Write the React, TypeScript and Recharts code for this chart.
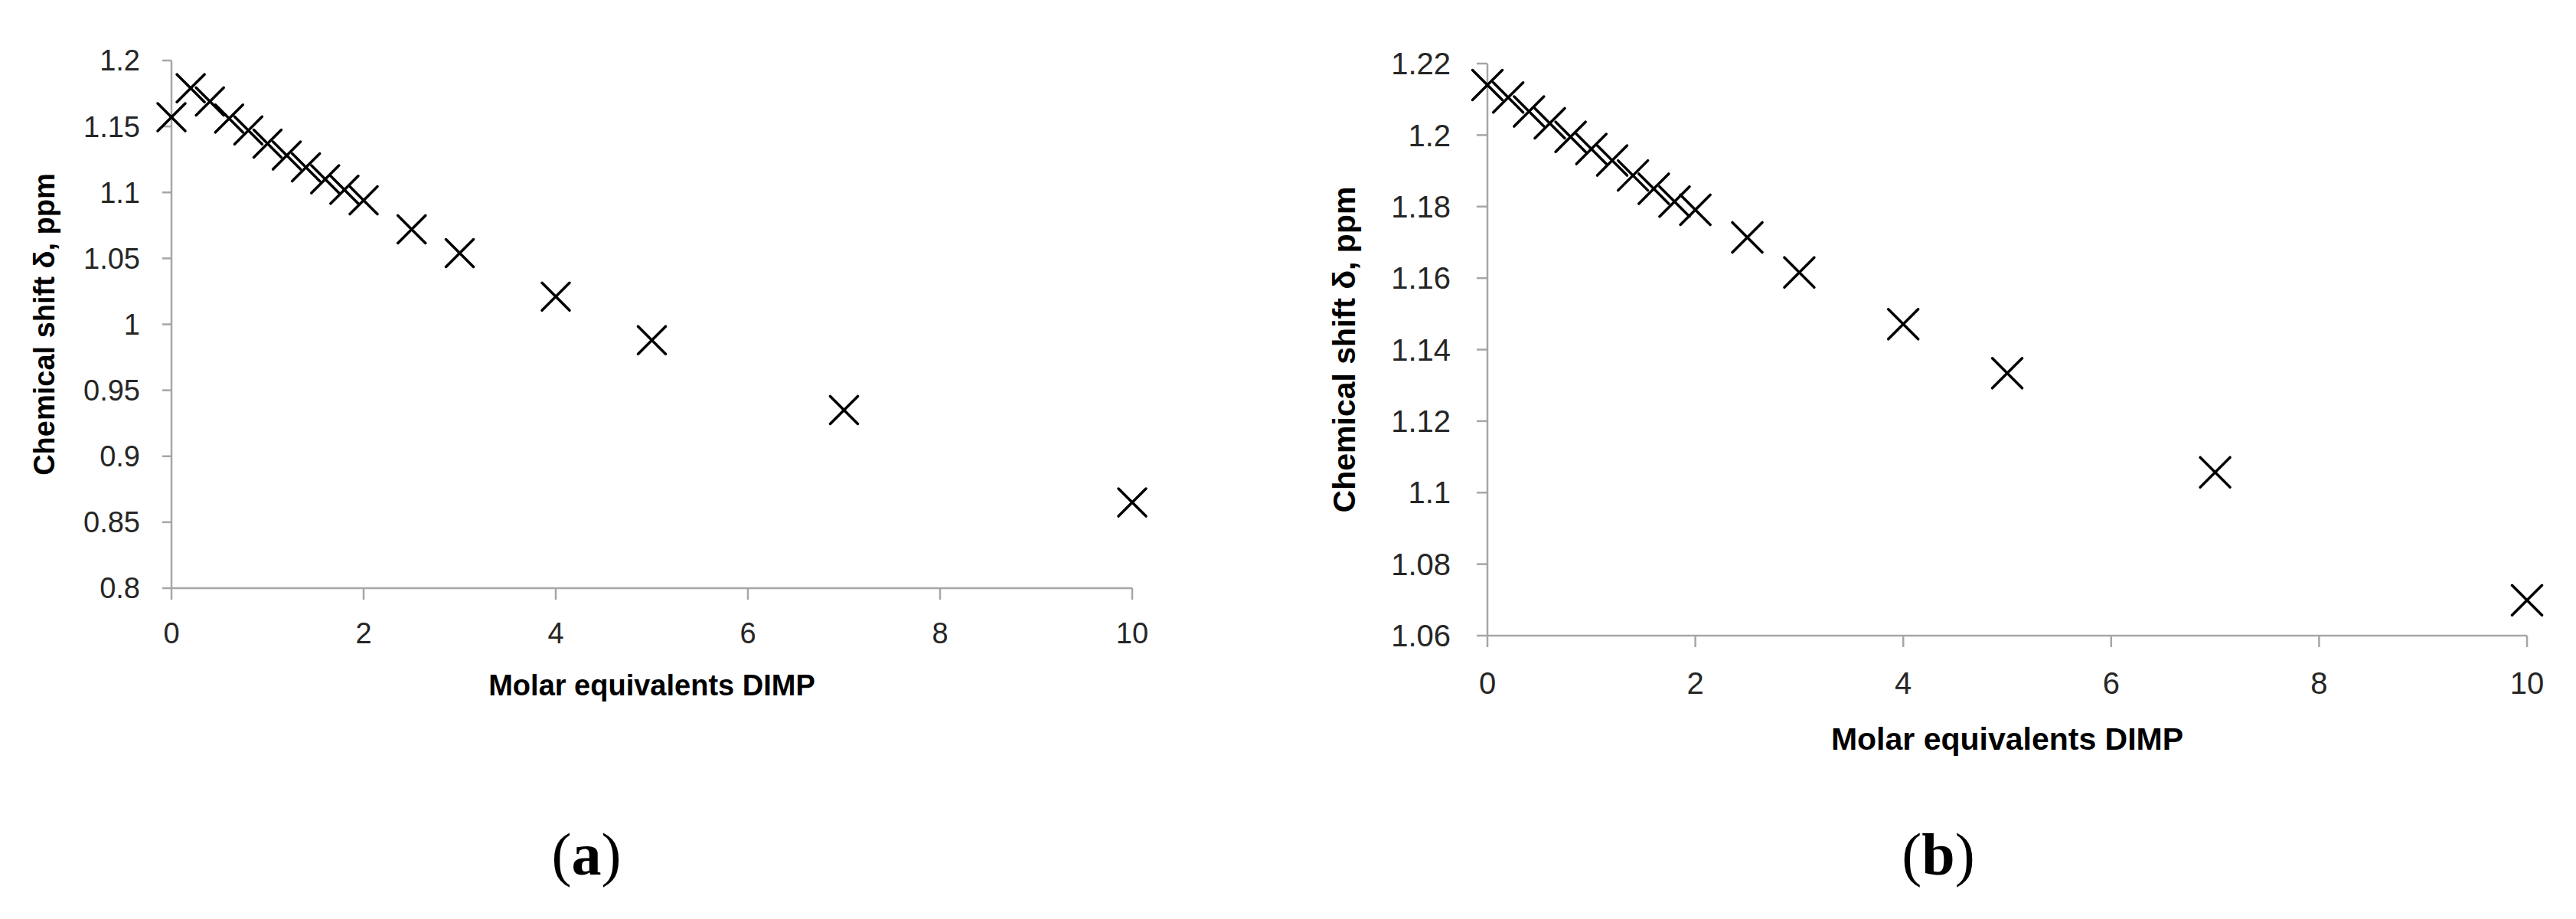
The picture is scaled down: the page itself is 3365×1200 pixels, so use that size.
import { ScatterChart, Scatter, XAxis, YAxis, Label } from 'recharts';

// Molar equivalents of DIMP added (same for both panels)
const molarEq = [0, 0.2, 0.4, 0.6, 0.8, 1, 1.2, 1.4, 1.6, 1.8, 2, 2.5, 3, 4, 5, 7, 10];

// panel (a) chemical shift, ppm
const shiftA = [
  1.157, 1.179, 1.169, 1.156, 1.147, 1.137, 1.128, 1.119, 1.11, 1.102, 1.094, 1.072, 1.054, 1.021,
  0.988, 0.935, 0.865,
];

// panel (b) chemical shift, ppm
const shiftB = [
  1.214, 1.2105, 1.2066, 1.2033, 1.1995, 1.1961, 1.1929, 1.1887, 1.185, 1.1814, 1.1791, 1.1714,
  1.1616, 1.1471, 1.1334, 1.1057, 1.0699,
];

const xTicks = [0, 2, 4, 6, 8, 10];
const yTicksA = [0.8, 0.85, 0.9, 0.95, 1, 1.05, 1.1, 1.15, 1.2];
const yTicksB = [1.06, 1.08, 1.1, 1.12, 1.14, 1.16, 1.18, 1.2, 1.22];

const X_TITLE = 'Molar equivalents DIMP';
const Y_TITLE = 'Chemical shift δ, ppm';

const AXIS = '#a6a6a6';
const FONT = '"Liberation Sans", Arial, sans-serif';

const dataA = molarEq.map((x, i) => ({ x, y: shiftA[i] }));
const dataB = molarEq.map((x, i) => ({ x, y: shiftB[i] }));

const makeCross = (half: number) => (props: any) => {
  const { cx, cy } = props;
  if (cx == null || cy == null) return null;
  return (
    <g stroke="#000" strokeWidth={3.5} strokeLinecap="round">
      <line x1={cx - half} y1={cy - half} x2={cx + half} y2={cy + half} />
      <line x1={cx - half} y1={cy + half} x2={cx + half} y2={cy - half} />
    </g>
  );
};

interface PanelProps {
  data: { x: number; y: number }[];
  yTicks: number[];
  left: number;
  width: number;
  height: number;
  margin: { top: number; right: number; bottom: number; left: number };
  yAxisWidth: number;
  xAxisHeight: number;
  tickFont: number;
  titleFont: number;
  xTickMargin: number;
  yTickMargin: number;
  yTickSize: number;
  yTitleOffset: number;
  xTitleOffset: number;
  markerHalf: number;
}

function Panel(p: PanelProps) {
  const tickStyle = { fontFamily: FONT, fontSize: p.tickFont, fill: '#262626' };
  const titleStyle = {
    fontFamily: FONT,
    fontSize: p.titleFont,
    fontWeight: 700,
    fill: '#000',
  };
  return (
    <div style={{ position: 'absolute', left: p.left, top: 0 }}>
      <ScatterChart width={p.width} height={p.height} margin={p.margin}>
        <XAxis
          type="number"
          dataKey="x"
          domain={[0, 10]}
          ticks={xTicks}
          interval={0}
          height={p.xAxisHeight}
          tickSize={15}
          tickMargin={p.xTickMargin}
          stroke={AXIS}
          strokeWidth={2.5}
          tickLine={{ stroke: AXIS, strokeWidth: 2.5 }}
          tick={tickStyle}
        >
          <Label
            value={X_TITLE}
            position="insideTop"
            offset={p.xTitleOffset}
            style={titleStyle}
          />
        </XAxis>
        <YAxis
          type="number"
          dataKey="y"
          domain={[p.yTicks[0], p.yTicks[p.yTicks.length - 1]]}
          ticks={p.yTicks}
          interval={0}
          width={p.yAxisWidth}
          tickSize={p.yTickSize}
          tickMargin={p.yTickMargin}
          stroke={AXIS}
          strokeWidth={2.5}
          tickLine={{ stroke: AXIS, strokeWidth: 2.5 }}
          tick={tickStyle}
        >
          <Label
            value={Y_TITLE}
            angle={-90}
            position="insideLeft"
            offset={p.yTitleOffset}
            style={{ ...titleStyle, textAnchor: 'middle' }}
          />
        </YAxis>
        <Scatter data={p.data} shape={makeCross(p.markerHalf)} isAnimationActive={false} />
      </ScatterChart>
    </div>
  );
}

export default function App() {
  const caption = {
    position: 'absolute' as const,
    top: 1116,
    transform: 'translate(-50%, -50%)',
    fontFamily: '"Liberation Serif", "Times New Roman", serif',
    fontSize: 78,
    color: '#000',
    lineHeight: 1,
    whiteSpace: 'nowrap' as const,
  };
  return (
    <div
      style={{
        position: 'absolute',
        left: 0,
        top: 0,
        width: 3365,
        height: 1200,
        background: '#fff',
        overflow: 'hidden',
      }}
    >
      <Panel
        data={dataA}
        yTicks={yTicksA}
        left={0}
        width={1650}
        height={1200}
        margin={{ top: 79, right: 171, bottom: 0, left: 0 }}
        yAxisWidth={224}
        xAxisHeight={432}
        tickFont={38}
        titleFont={38}
        xTickMargin={30}
        yTickMargin={29}
        yTickSize={12}
        yTitleOffset={58}
        xTitleOffset={113}
        markerHalf={18}
      />
      <Panel
        data={dataB}
        yTicks={yTicksB}
        left={1650}
        width={1715}
        height={1200}
        margin={{ top: 83, right: 64, bottom: 0, left: 0 }}
        yAxisWidth={293}
        xAxisHeight={370}
        tickFont={40}
        titleFont={41}
        xTickMargin={33}
        yTickMargin={34}
        yTickSize={14}
        yTitleOffset={105}
        xTitleOffset={120}
        markerHalf={19.5}
      />
      <div style={{ ...caption, left: 766 }}>
        (<b>a</b>)
      </div>
      <div style={{ ...caption, left: 2532 }}>
        (<b>b</b>)
      </div>
    </div>
  );
}
